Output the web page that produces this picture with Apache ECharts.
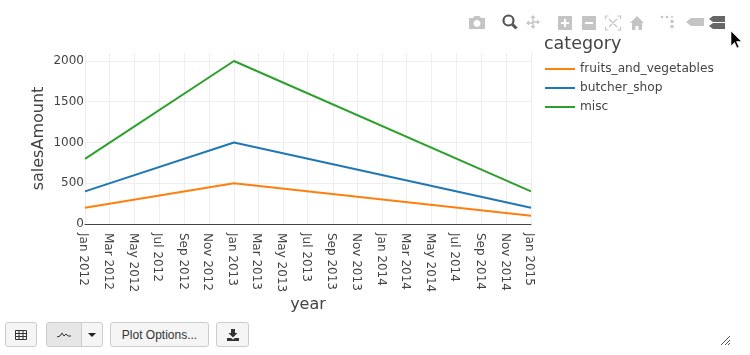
<!DOCTYPE html>
<html>
<head>
<meta charset="utf-8">
<script src="https://cdn.jsdelivr.net/npm/echarts@6/dist/echarts.min.js"></script>
<style>
  html, body { margin: 0; padding: 0; background: #fff; overflow: hidden; }
  #chart { position: absolute; left: 0; top: 0; width: 750px; height: 355px; }
  #overlay { position: absolute; left: 0; top: 0; pointer-events: none; }
  .btn {
    position: absolute; top: 322px; height: 25px; box-sizing: border-box;
    border: 1px solid #ccc; border-radius: 3px; background: #f5f5f5;
    font: 12px "Liberation Sans", Arial, sans-serif; color: #333;
    display: flex; align-items: center; justify-content: center;
  }
</style>
</head>
<body>
<div id="chart"></div>
<div class="btn" style="left:5px;width:32px">
  <svg width="12" height="10" viewBox="0 0 12 10"><path d="M0.5 0.5h11v9h-11zM0.5 3.5h11M0.5 6.5h11M4 .5v9M8 .5v9" fill="none" stroke="#333"/></svg>
</div>
<div class="btn" style="left:46px;width:36px;background:#e6e6e6;border-radius:3px 0 0 3px">
  <svg width="14" height="6" viewBox="0 0 14 6"><path d="M0 5L3 4L5 1L7 4L9 2L11 4L14 4" fill="none" stroke="#333" stroke-width="1"/></svg>
</div>
<div class="btn" style="left:81px;width:22px;border-radius:0 3px 3px 0">
  <svg width="8" height="4" viewBox="0 0 10 5"><path d="M0 0h10L5 5z" fill="#222"/></svg>
</div>
<div class="btn" style="left:110px;width:99px">Plot Options...</div>
<div class="btn" style="left:216px;width:33px">
  <svg width="12" height="12" viewBox="0 0 12 12"><path d="M4 0h4v4h2.500L6 8.500 1.500 4H4zM0 9h4l2 1.500L8 9h4v3H0z" fill="#333"/></svg>
</div>
<svg id="overlay" width="750" height="355" viewBox="0 0 750 355">
  <g fill="#c4c4c4">
    <path d="M469 18h4l1.500-2h5l1.500 2h4v11h-16zM477 20a3.500 3.500 0 1 0 .01 0z" fill-rule="evenodd"/>
    <path d="M533 15l2.500 3h-1.800v3.300H537v-1.800l3 2.500-3 2.500v-1.800h-3.300V26h1.800l-2.500 3-2.500-3h1.800v-2.300H529v1.800l-3-2.500 3-2.500v1.800h3.300V18h-1.800z"/>
    <path d="M558 16h14v14h-14zM564 19v3h-3v2h3v3h2v-3h3v-2h-3v-3z" fill-rule="evenodd"/>
    <path d="M582 16h14v14h-14zM585 22v2h8v-2z" fill-rule="evenodd"/>
    <path d="M630 23l7-7 7 7h-2v7h-3.500v-4h-3v4H632v-7z"/>
    <path d="M686 22l5-4h13v8h-13z"/>
    <circle cx="662" cy="17" r="1.300"/><circle cx="667" cy="17" r="1.300"/><circle cx="672" cy="17" r="1.300" opacity=".7"/>
    <rect x="670.500" y="20" width="3" height="3"/><rect x="670.500" y="25" width="3" height="3"/>
  </g>
  <g fill="none" stroke="#c4c4c4">
    <path d="M605.500 19v-3h3M617.500 16h3v3M620.500 27v3h-3M608.500 30h-3v-3M609 19l8 8M617 19l-8 8" stroke-width="1.200"/>
  </g>
  <g fill="none" stroke="#555" stroke-width="2.200">
    <circle cx="508.500" cy="20.500" r="5"/>
    <path d="M512.500 24.500l4 4" stroke-width="3"/>
  </g>
  <path d="M709 19l4-3h12v6h-12zM709 26l4-3h12v6h-12z" fill="#666"/>
  <path d="M731 31v15l3.500-3.500 2.500 5.500 2-1-2.500-5.500h5z" fill="#000" stroke="#fff" stroke-width=".6"/>
  <path d="M721 345l9-9M725 345l5-5M728 345l2-2" stroke="#555" stroke-width="1"/>
</svg>
<script>
const dates = ['2012-01-01', '2013-01-01', '2015-01-01']
const fruitsAndVegetables = [200, 500, 100]
const butcherShop = [400, 1000, 200]
const misc = [800, 2000, 400]
const yTicks = [0, 500, 1000, 1500, 2000]
const tickDates = ['2012-01-01', '2012-03-01', '2012-05-01', '2012-07-01', '2012-09-01', '2012-11-01',
  '2013-01-01', '2013-03-01', '2013-05-01', '2013-07-01', '2013-09-01', '2013-11-01',
  '2014-01-01', '2014-03-01', '2014-05-01', '2014-07-01', '2014-09-01', '2014-11-01', '2015-01-01']
const tickLabels = ['Jan 2012', 'Mar 2012', 'May 2012', 'Jul 2012', 'Sep 2012', 'Nov 2012',
  'Jan 2013', 'Mar 2013', 'May 2013', 'Jul 2013', 'Sep 2013', 'Nov 2013',
  'Jan 2014', 'Mar 2014', 'May 2014', 'Jul 2014', 'Sep 2014', 'Nov 2014', 'Jan 2015']

const font = '"DejaVu Sans", Verdana, sans-serif'
const textColor = '#444'
const toTime = d => Date.parse(d)
const tickTimes = tickDates.map(toTime)

function pairs(values) {
  return values.map((v, i) => [toTime(dates[i]), v])
}
function lineSeries(name, values, color) {
  return {
    name: name, type: 'line', data: pairs(values), showSymbol: false, symbol: 'none',
    lineStyle: { width: 2, color: color }, itemStyle: { color: color }, animation: false
  }
}

var myChart = echarts.init(document.getElementById('chart'), null, { renderer: 'canvas' })
var option = {
  animation: false,
  backgroundColor: '#fff',
  title: {
    text: 'category', left: 544, top: 35, padding: 0,
    textStyle: { fontFamily: font, fontSize: 17.500, fontWeight: 'normal', color: textColor }
  },
  legend: {
    orient: 'vertical', left: 545, top: 63, padding: 0, itemGap: 7,
    itemWidth: 30, itemHeight: 13,
    icon: 'path://M0 0h30v2h-30z',
    data: ['fruits_and_vegetables', 'butcher_shop', 'misc'],
    textStyle: { fontFamily: font, fontSize: 12.200, color: textColor }
  },
  grid: { left: 85, right: 219, top: 53, bottom: 131 },
  xAxis: {
    type: 'value',
    min: tickTimes[0],
    max: tickTimes[tickTimes.length - 1],
    name: 'year', nameLocation: 'middle', nameGap: 73, nameMoveOverlap: false,
    nameTextStyle: { fontFamily: font, fontSize: 16, color: textColor },
    axisLine: { show: true, onZero: false, lineStyle: { color: '#444', width: 1 } },
    axisTick: { show: false, customValues: tickTimes },
    splitLine: { show: true, lineStyle: { color: '#eee', width: 1 } },
    axisLabel: {
      customValues: tickTimes, rotate: -90, margin: 9, hideOverlap: false,
      showMinLabel: true, showMaxLabel: true,
      fontFamily: font, fontSize: 12, color: textColor,
      rich: { t: { fontFamily: font, fontSize: 12, color: textColor, padding: [3, 0, 0, 0] } },
      formatter: function (value) {
        return '{t|' + tickLabels[tickTimes.indexOf(value)] + '}'
      }
    }
  },
  yAxis: {
    type: 'value', min: 0, max: 2098,
    name: 'salesAmount', nameLocation: 'middle', nameGap: 38, nameMoveOverlap: false,
    nameTextStyle: { fontFamily: font, fontSize: 16, color: textColor },
    axisLine: { show: false },
    axisTick: { show: false, customValues: yTicks },
    splitLine: { show: true, lineStyle: { color: '#eee', width: 1 } },
    axisLabel: {
      customValues: yTicks, margin: 1, fontFamily: font, fontSize: 12, color: textColor,
      formatter: function (value) { return String(value) }
    }
  },
  series: [
    lineSeries('fruits_and_vegetables', fruitsAndVegetables, '#ff7f0e'),
    lineSeries('butcher_shop', butcherShop, '#1f77b4'),
    lineSeries('misc', misc, '#2ca02c')
  ]
}
myChart.setOption(option)
</script>
</body>
</html>
